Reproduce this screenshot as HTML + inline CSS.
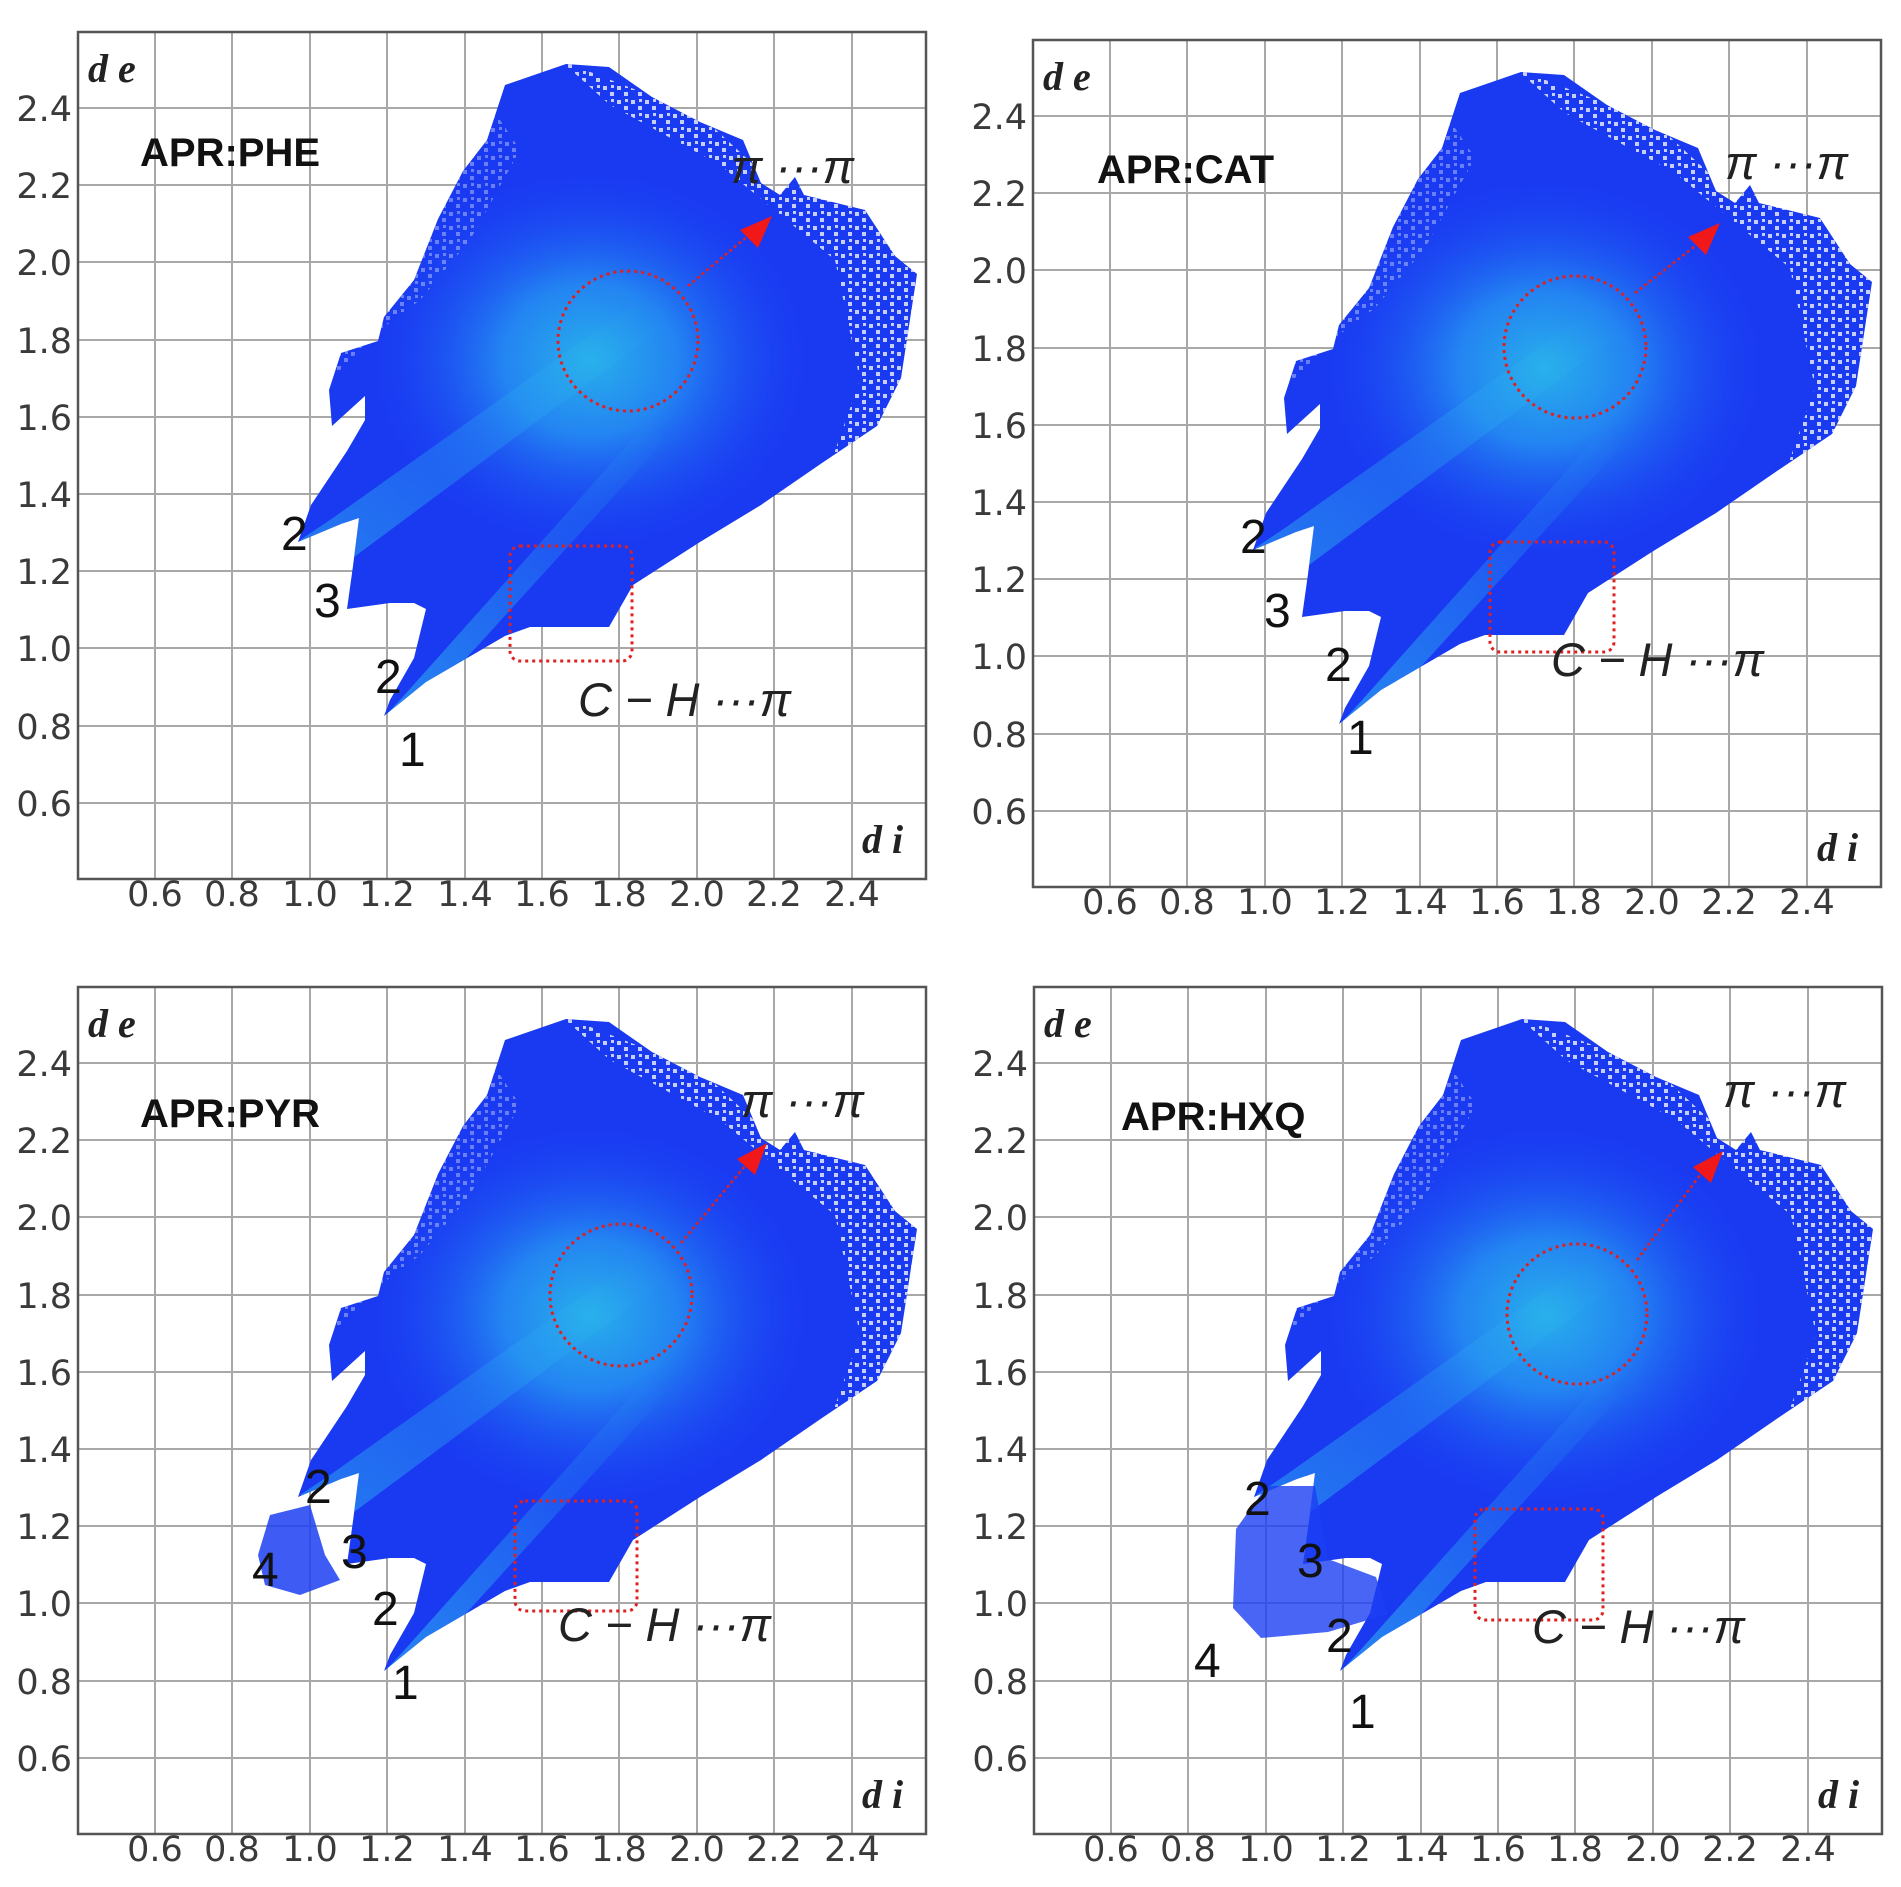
<!DOCTYPE html>
<html><head><meta charset="utf-8"><style>
html,body{margin:0;padding:0;background:#fff;}
svg{display:block;}
.tk{font-family:"DejaVu Sans","Liberation Sans",sans-serif;font-size:35px;fill:#3a3a3a;}
.ax{font-family:"Liberation Serif",serif;font-style:italic;font-weight:bold;font-size:40px;fill:#222;}
.ttl{font-family:"Liberation Sans",sans-serif;font-weight:bold;font-size:40px;fill:#111;}
.an{font-family:"Liberation Sans",sans-serif;font-style:italic;font-size:47px;fill:#222;}
.nm{font-family:"Liberation Sans",sans-serif;font-size:48px;fill:#111;}
</style></head><body>
<svg width="1901" height="1887" viewBox="0 0 1901 1887" xmlns="http://www.w3.org/2000/svg">
<defs>
<radialGradient id="cy" cx="0.5" cy="0.5" r="0.5">
<stop offset="0" stop-color="#2ee0e8"/>
<stop offset="0.4" stop-color="#27a4f2"/>
<stop offset="1" stop-color="#1a4af5" stop-opacity="0"/>
</radialGradient>
<linearGradient id="st" x1="0" y1="1" x2="1" y2="0">
<stop offset="0" stop-color="#30c8f0" stop-opacity="0.9"/>
<stop offset="1" stop-color="#30c8f0" stop-opacity="0"/>
</linearGradient>
<pattern id="spk" width="14" height="14" patternUnits="userSpaceOnUse">
<rect x="1" y="2" width="4" height="4" fill="#fff"/>
<rect x="8" y="8" width="4" height="4" fill="#fff"/>
<rect x="9" y="1" width="3" height="3" fill="#fff"/>
</pattern>
<g id="grid">
<g stroke="#a8a8a8" stroke-width="2">
<line x1="155" y1="32" x2="155" y2="879"/><line x1="232" y1="32" x2="232" y2="879"/><line x1="310" y1="32" x2="310" y2="879"/><line x1="387" y1="32" x2="387" y2="879"/><line x1="465" y1="32" x2="465" y2="879"/><line x1="542" y1="32" x2="542" y2="879"/><line x1="619" y1="32" x2="619" y2="879"/><line x1="697" y1="32" x2="697" y2="879"/><line x1="774" y1="32" x2="774" y2="879"/><line x1="852" y1="32" x2="852" y2="879"/>
<line x1="78" y1="108" x2="926" y2="108"/><line x1="78" y1="185" x2="926" y2="185"/><line x1="78" y1="262" x2="926" y2="262"/><line x1="78" y1="340" x2="926" y2="340"/><line x1="78" y1="417" x2="926" y2="417"/><line x1="78" y1="494" x2="926" y2="494"/><line x1="78" y1="571" x2="926" y2="571"/><line x1="78" y1="648" x2="926" y2="648"/><line x1="78" y1="726" x2="926" y2="726"/><line x1="78" y1="803" x2="926" y2="803"/>
</g>
<rect x="78" y="32" width="848" height="847" fill="none" stroke="#555" stroke-width="2.5"/>
<g class="tk" text-anchor="end">
<text x="72" y="121">2.4</text><text x="72" y="198">2.2</text><text x="72" y="275">2.0</text><text x="72" y="353">1.8</text><text x="72" y="430">1.6</text><text x="72" y="507">1.4</text><text x="72" y="584">1.2</text><text x="72" y="661">1.0</text><text x="72" y="739">0.8</text><text x="72" y="816">0.6</text>
</g>
<g class="tk" text-anchor="middle">
<text x="155" y="906">0.6</text><text x="232" y="906">0.8</text><text x="310" y="906">1.0</text><text x="387" y="906">1.2</text><text x="465" y="906">1.4</text><text x="542" y="906">1.6</text><text x="619" y="906">1.8</text><text x="697" y="906">2.0</text><text x="774" y="906">2.2</text><text x="852" y="906">2.4</text>
</g>
</g>
<path id="blob" d="M384,716 L426,682 L505,636 L530,627 L609,627 L633,585 L700,542 L761,505 L822,463 L877,426 L901,378 L917,274 L895,256 L865,210 L804,195 L795,177 L780,195 L761,183 L743,140 L700,122 L652,97 L609,67 L566,64 L505,85 L487,140 L463,171 L438,219 L414,280 L384,317 L378,341 L341,353 L329,390 L332,426 L365,396 L365,420 L347,451 L311,505 L298,542 L341,524 L359,518 L353,566 L347,609 L390,603 L414,603 L426,609 L414,658 L390,700 Z"/>
<clipPath id="bc"><use href="#blob"/></clipPath>
<g id="plot">
<use href="#blob" fill="#1a3af2"/>
<g clip-path="url(#bc)">
<ellipse cx="590" cy="360" rx="220" ry="190" fill="url(#cy)" opacity="0.7"/>
<polygon points="300,540 330,520 640,300 660,330 350,560" fill="url(#st)" opacity="0.5"/>
<polygon points="385,716 400,700 650,420 665,440 410,720" fill="url(#st)" opacity="0.6"/>
<path d="M560,60 L700,115 L770,180 L870,205 L925,270 L905,385 L880,430 L830,465 L860,380 L835,260 L720,165 L610,105 Z" fill="url(#spk)" opacity="0.75"/>
<path d="M480,90 L520,150 L470,240 L420,300 L380,330 L330,380 L345,300 L420,200 Z" fill="url(#spk)" opacity="0.35"/>
</g>
</g>
</defs>

<!-- TL -->
<g>
<use href="#grid"/>
<use href="#plot"/>
<text class="ax" x="88" y="82">d e</text>
<text class="ax" x="862" y="853">d i</text>
<text class="ttl" x="140" y="166">APR:PHE</text>
<text class="an" x="731" y="183">π ···π</text>
<circle cx="628" cy="341" r="70" fill="none" stroke="#e02020" stroke-width="3" stroke-dasharray="3,4"/>
<line x1="688" y1="286" x2="755" y2="230" stroke="#e02020" stroke-width="2.5" stroke-dasharray="3,3"/>
<polygon points="772,216 740,230 758,248" fill="#f01818"/>
<rect x="510" y="546" width="122" height="115" rx="10" fill="none" stroke="#e02020" stroke-width="3" stroke-dasharray="3,4"/>
<text class="an" x="578" y="716">C − H ···π</text>
<text class="nm" x="281" y="550">2</text><text class="nm" x="314" y="617">3</text><text class="nm" x="375" y="693">2</text><text class="nm" x="399" y="766">1</text>
</g>

<!-- TR -->
<g transform="translate(955,8)">
<use href="#grid"/>
<use href="#plot"/>
<text class="ax" x="88" y="82">d e</text>
<text class="ax" x="862" y="853">d i</text>
<text class="ttl" x="142" y="175">APR:CAT</text>
<text class="an" x="770" y="171">π ···π</text>
<circle cx="620" cy="339" r="71" fill="none" stroke="#e02020" stroke-width="3" stroke-dasharray="3,4"/>
<line x1="680" y1="285" x2="748" y2="232" stroke="#e02020" stroke-width="2.5" stroke-dasharray="3,3"/>
<polygon points="765,215 733,229 751,247" fill="#f01818"/>
<rect x="535" y="534" width="124" height="110" rx="10" fill="none" stroke="#e02020" stroke-width="3" stroke-dasharray="3,4"/>
<text class="an" x="596" y="668">C − H ···π</text>
<text class="nm" x="285" y="545">2</text><text class="nm" x="309" y="619">3</text><text class="nm" x="370" y="673">2</text><text class="nm" x="392" y="746">1</text>
</g>

<!-- BL -->
<g transform="translate(0,955)">
<use href="#grid"/>
<use href="#plot"/>
<polygon points="270,560 310,550 325,600 340,625 300,640 265,630 258,600" fill="#1c3ef2" opacity="0.85"/>
<text class="ax" x="88" y="82">d e</text>
<text class="ax" x="862" y="853">d i</text>
<text class="ttl" x="140" y="172">APR:PYR</text>
<text class="an" x="741" y="162">π ···π</text>
<circle cx="621" cy="340" r="71" fill="none" stroke="#e02020" stroke-width="3" stroke-dasharray="3,4"/>
<line x1="681" y1="288" x2="750" y2="205" stroke="#e02020" stroke-width="2.5" stroke-dasharray="3,3"/>
<polygon points="767,188 737,204 755,220" fill="#f01818"/>
<rect x="515" y="546" width="122" height="110" rx="10" fill="none" stroke="#e02020" stroke-width="3" stroke-dasharray="3,4"/>
<text class="an" x="558" y="686">C − H ···π</text>
<text class="nm" x="305" y="548">2</text><text class="nm" x="341" y="613">3</text><text class="nm" x="252" y="631">4</text><text class="nm" x="372" y="670">2</text><text class="nm" x="392" y="744">1</text>
</g>

<!-- BR -->
<g transform="translate(956,955)">
<use href="#grid"/>
<use href="#plot"/>
<polygon points="280,574 311,531 359,531 372,604 420,622 432,659 372,677 305,683 277,653" fill="#1c3ef2" opacity="0.8"/>
<text class="ax" x="88" y="82">d e</text>
<text class="ax" x="862" y="853">d i</text>
<text class="ttl" x="165" y="175">APR:HXQ</text>
<text class="an" x="767" y="152">π ···π</text>
<circle cx="621" cy="359" r="70" fill="none" stroke="#e02020" stroke-width="3" stroke-dasharray="3,4"/>
<line x1="681" y1="305" x2="750" y2="212" stroke="#e02020" stroke-width="2.5" stroke-dasharray="3,3"/>
<polygon points="767,196 737,212 755,228" fill="#f01818"/>
<rect x="519" y="554" width="128" height="111" rx="10" fill="none" stroke="#e02020" stroke-width="3" stroke-dasharray="3,4"/>
<text class="an" x="576" y="688">C − H ···π</text>
<text class="nm" x="288" y="560">2</text><text class="nm" x="341" y="622">3</text><text class="nm" x="238" y="722">4</text><text class="nm" x="370" y="697">2</text><text class="nm" x="393" y="773">1</text>
</g>
</svg>
</body></html>
